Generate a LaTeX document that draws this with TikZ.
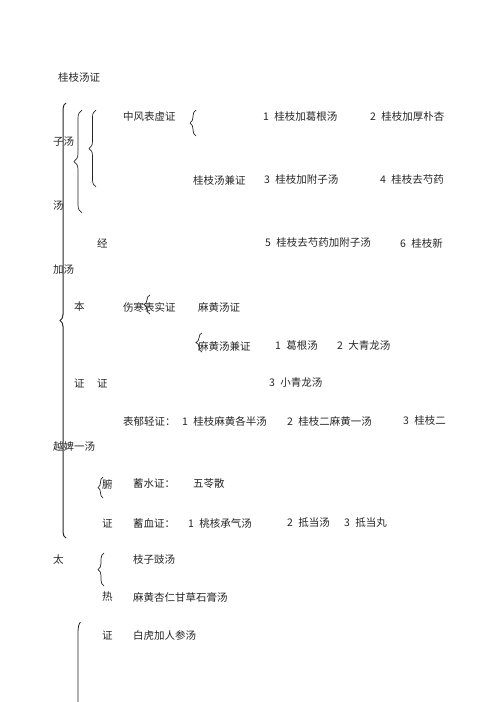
\documentclass[tikz,border=0pt]{standalone}
\usepackage{fontspec}
\newfontfamily\cjk{Noto Sans CJK SC}
\usetikzlibrary{decorations.pathreplacing}
\begin{document}
\begin{tikzpicture}[x=1pt,y=-1pt,
  txt/.style={anchor=west,inner sep=0pt,font=\cjk\fontsize{10.5}{12}\selectfont,text=black!85},
  brc/.style={draw=black!85,line width=0.7pt,decorate,decoration={brace,amplitude=#1}},
  brc/.default=6pt]
\useasboundingbox (0,0) rectangle (496,702);
% texts
\node[txt] (t1) at (58,78) {桂枝汤证};
\node[txt] (zf) at (123,117) {中风表虚证};
\node[txt] (a1) at (263,117) {1\enspace 桂枝加葛根汤};
\node[txt] (a2) at (370,117) {2\enspace 桂枝加厚朴杏};
\node[txt] (zt) at (53,142) {子汤};
\node[txt] (gj) at (193,180) {桂枝汤兼证};
\node[txt] (a3) at (264,180) {3\enspace 桂枝加附子汤};
\node[txt] (a4) at (380,180) {4\enspace 桂枝去芍药};
\node[txt] (tg) at (53,206) {汤};
\node[txt] (jing) at (97,243) {经};
\node[txt] (a5) at (265,243) {5\enspace 桂枝去芍药加附子汤};
\node[txt] (a6) at (400,243) {6\enspace 桂枝新};
\node[txt] (jt) at (53,270) {加汤};
\node[txt] (ben) at (74,307) {本};
\node[txt] (sh) at (123,307) {伤寒表实证};
\node[txt] (mh) at (198,307) {麻黄汤证};
\node[txt] (mj) at (198,346) {麻黄汤兼证};
\node[txt] (b1) at (275,346) {1\enspace 葛根汤};
\node[txt] (b2) at (337,346) {2\enspace 大青龙汤};
\node[txt] (z1) at (74,383) {证};
\node[txt] (z2) at (97,383) {证};
\node[txt] (b3) at (269,383) {3\enspace 小青龙汤};
\node[txt] (by) at (123,421) {表郁轻证：};
\node[txt] (c1) at (182,421) {1\enspace 桂枝麻黄各半汤};
\node[txt] (c2) at (287,421) {2\enspace 桂枝二麻黄一汤};
\node[txt] (c3) at (403,421) {3\enspace 桂枝二};
\node[txt] (yb) at (53,447) {越婢一汤};
\node[txt] (fu) at (102,484) {腑};
\node[txt] (xs) at (133,484) {蓄水证：};
\node[txt] (wl) at (193,484) {五苓散};
\node[txt] (z3) at (102,523) {证};
\node[txt] (xx) at (133,523) {蓄血证：};
\node[txt] (d1) at (188,523) {1\enspace 桃核承气汤};
\node[txt] (d2) at (287,523) {2\enspace 抵当汤};
\node[txt] (d3) at (344,523) {3\enspace 抵当丸};
\node[txt] (tai) at (53,560) {太};
\node[txt] (zz) at (133,560) {枝子豉汤};
\node[txt] (re) at (102,597) {热};
\node[txt] (mx) at (133,597) {麻黄杏仁甘草石膏汤};
\node[txt] (z4) at (102,635) {证};
\node[txt] (bh) at (133,635) {白虎加人参汤};
% braces
\draw[brc=6pt,line width=1pt] (66,538) -- (66,103);
\draw[brc=8pt] (82,213) -- (82,110);
\draw[brc=7pt] (96,187) -- (96,110);
\draw[brc=6pt] (196,136) -- (196,110);
\draw[brc=6pt] (150,314) -- (150,295);
\draw[brc=6pt] (202,352) -- (202,333);
\draw[brc=5pt] (103,498) -- (103,477);
\draw[brc=6pt] (104,586) -- (104,553);
\draw[draw=black!85,line width=0.8pt] (80.5,622) .. controls (78.5,624) and (78,628) .. (78,634) -- (78,702);
\end{tikzpicture}
\end{document}
